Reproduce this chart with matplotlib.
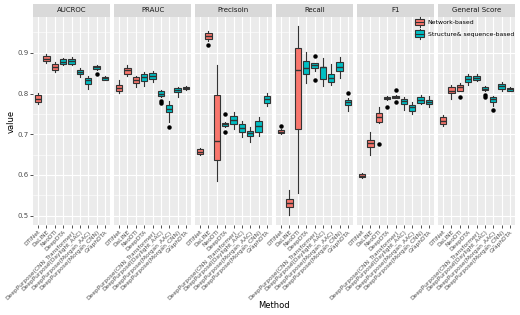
import matplotlib
matplotlib.use("Agg")
import matplotlib.pyplot as plt
from matplotlib.legend_handler import HandlerBase
from matplotlib.patches import Rectangle, Patch
from matplotlib.lines import Line2D
from matplotlib.ticker import MultipleLocator

methods = ["DTINet", "DaLINE", "NeoDTI", "DeepDTA",
           "DeepPurpose(CNN_Transformer)", "DeepPurpose(Daylight_AAC)",
           "DeepPurpose(Morgan_AAC)", "DeepPurpose(Morgan_CNN)", "GraphDTA"]
groups = ["Network-based"] * 3 + ["Structure& sequence-based"] * 6
metrics = ["AUCROC", "PRAUC", "Precisoin", "Recall", "F1", "General Score"]

# box summaries: [whisker low, q1, median, q3, whisker high]
aucroc = [[0.774, 0.778, 0.787, 0.797, 0.801], [0.875, 0.880, 0.886, 0.893, 0.897],
          [0.854, 0.858, 0.865, 0.872, 0.878], [0.869, 0.872, 0.878, 0.884, 0.887],
          [0.870, 0.872, 0.879, 0.885, 0.889], [0.840, 0.848, 0.853, 0.858, 0.862],
          [0.811, 0.824, 0.832, 0.839, 0.843], [0.858, 0.860, 0.864, 0.868, 0.870],
          [0.833, 0.834, 0.837, 0.840, 0.842]]
aucroc_out = [[], [], [], [], [], [], [], [0.849], []]

prauc = [[0.801, 0.807, 0.814, 0.820, 0.832], [0.842, 0.849, 0.857, 0.863, 0.870],
         [0.816, 0.827, 0.833, 0.840, 0.844], [0.819, 0.830, 0.840, 0.847, 0.854],
         [0.829, 0.835, 0.843, 0.851, 0.855], [0.792, 0.794, 0.800, 0.805, 0.809],
         [0.731, 0.754, 0.762, 0.772, 0.782], [0.792, 0.803, 0.808, 0.813, 0.816],
         [0.809, 0.810, 0.813, 0.816, 0.818]]
prauc_out = [[], [], [], [], [], [0.781, 0.776], [0.717], [], []]

precision = [[0.648, 0.651, 0.657, 0.663, 0.667], [0.930, 0.934, 0.942, 0.948, 0.953],
             [0.585, 0.636, 0.684, 0.797, 0.870], [0.718, 0.720, 0.724, 0.728, 0.730],
             [0.712, 0.724, 0.735, 0.745, 0.754], [0.694, 0.705, 0.715, 0.724, 0.733],
             [0.682, 0.696, 0.702, 0.708, 0.717], [0.696, 0.706, 0.720, 0.733, 0.742],
             [0.769, 0.776, 0.786, 0.795, 0.801]]
precision_out = [[], [0.918], [], [0.749, 0.705], [], [], [], [], []]

recall = [[0.700, 0.702, 0.706, 0.710, 0.712], [0.501, 0.522, 0.530, 0.540, 0.563],
          [0.555, 0.712, 0.858, 0.913, 0.967], [0.827, 0.848, 0.862, 0.879, 0.901],
          [0.855, 0.862, 0.870, 0.875, 0.876], [0.819, 0.836, 0.864, 0.866, 0.887],
          [0.821, 0.829, 0.838, 0.848, 0.872], [0.838, 0.856, 0.866, 0.877, 0.889],
          [0.757, 0.771, 0.778, 0.784, 0.788]]
recall_out = [[0.721], [], [], [], [0.893, 0.834], [], [], [], [0.802]]

f1 = [[0.593, 0.594, 0.598, 0.602, 0.604], [0.649, 0.669, 0.678, 0.687, 0.706],
      [0.727, 0.731, 0.742, 0.753, 0.768], [0.785, 0.787, 0.790, 0.792, 0.795],
      [0.788, 0.789, 0.792, 0.794, 0.796], [0.760, 0.774, 0.782, 0.786, 0.791],
      [0.750, 0.758, 0.766, 0.772, 0.780], [0.774, 0.776, 0.784, 0.792, 0.797],
      [0.768, 0.774, 0.780, 0.784, 0.794]]
f1_out = [[], [], [0.677], [0.768], [0.809, 0.780], [], [], [], []]

general = [[0.720, 0.725, 0.733, 0.742, 0.747], [0.787, 0.801, 0.807, 0.815, 0.821],
           [0.805, 0.807, 0.815, 0.821, 0.825], [0.821, 0.828, 0.835, 0.842, 0.848],
           [0.830, 0.832, 0.838, 0.844, 0.847], [0.806, 0.809, 0.811, 0.815, 0.818],
           [0.769, 0.780, 0.786, 0.791, 0.794], [0.806, 0.812, 0.819, 0.824, 0.828],
           [0.805, 0.807, 0.811, 0.813, 0.815]]
general_out = [[], [], [0.792], [], [], [0.797, 0.791], [0.760], [], []]

panels = [(aucroc, aucroc_out), (prauc, prauc_out), (precision, precision_out),
          (recall, recall_out), (f1, f1_out), (general, general_out)]

colors = {"Network-based": "#F8766D", "Structure& sequence-based": "#00BFC4"}
EDGE = "#333333"
W, H = 520, 315


class BoxKey(HandlerBase):
    """ggplot-like boxplot legend key."""
    def create_artists(self, legend, orig_handle, xd, yd, w, h, fontsize, trans):
        cx = -xd + w / 2
        line = Line2D([cx, cx], [-yd - 0.3 * h, -yd + 1.3 * h], color=EDGE, lw=0.8,
                      transform=trans)
        box = Rectangle((-xd, -yd), w, h, facecolor=orig_handle.get_facecolor(),
                        edgecolor=EDGE, lw=0.8, transform=trans)
        med = Line2D([-xd, -xd + w], [-yd + h / 2, -yd + h / 2], color=EDGE, lw=0.8,
                     transform=trans)
        return [line, box, med]


fig = plt.figure(figsize=(W / 100, H / 100), dpi=100)
fig.patch.set_facecolor("white")

left0, pw, gap = 33, 77, 4
top, bottom = 17, 225
for i, (metric, (stats, outs)) in enumerate(zip(metrics, panels)):
    x0 = left0 + i * (pw + gap)
    ax = fig.add_axes([x0 / W, 1 - bottom / H, pw / W, (bottom - top) / H])
    ax.set_facecolor("#EBEBEB")
    for s in ax.spines.values():
        s.set_visible(False)

    bx = []
    for (lo, q1, med, q3, hi), fl in zip(stats, outs):
        bx.append(dict(whislo=lo, q1=q1, med=med, q3=q3, whishi=hi, fliers=fl))
    pos = list(range(1, len(methods) + 1))
    res = ax.bxp(bx, positions=pos, widths=0.75, patch_artist=True, showcaps=False,
                 boxprops=dict(edgecolor=EDGE, lw=0.8),
                 whiskerprops=dict(color=EDGE, lw=0.8),
                 medianprops=dict(color=EDGE, lw=1.0),
                 flierprops=dict(marker="o", markersize=2.2, markerfacecolor="black",
                                 markeredgecolor="black"))
    for patch, g in zip(res["boxes"], groups):
        patch.set_facecolor(colors[g])

    ax.set_xlim(0.4, len(methods) + 0.6)
    ax.set_ylim(0.477, 0.988)
    ax.yaxis.set_major_locator(MultipleLocator(0.1))
    ax.yaxis.set_minor_locator(MultipleLocator(0.05))
    ax.set_xticks(pos)
    ax.set_xticklabels(methods, rotation=45, ha="right", rotation_mode="anchor",
                       fontsize=4.2, color="#4D4D4D")
    ax.grid(which="major", color="white", lw=0.8)
    ax.grid(which="minor", axis="y", color="white", lw=0.4)
    ax.set_axisbelow(True)
    ax.tick_params(axis="both", which="major", length=2, width=0.6, color="#333333",
                   pad=1)
    ax.tick_params(axis="y", which="minor", length=0)
    if i == 0:
        ax.set_yticklabels([f"{v:.1f}" for v in ax.get_yticks()], fontsize=5,
                           color="#4D4D4D")
    else:
        ax.tick_params(axis="y", labelleft=False, length=0)

    # facet strip
    fig.add_artist(Rectangle((x0 / W, 1 - top / H), pw / W, 13 / H,
                             transform=fig.transFigure, facecolor="#D9D9D9",
                             edgecolor="none"))
    fig.text((x0 + pw / 2) / W, 1 - (top - 6.5) / H, metric, ha="center", va="center",
             fontsize=5, color="#1A1A1A")

fig.text((left0 + 3 * (pw + gap) - 2) / W, 1 - 306 / H, "Method", ha="center",
         va="center", fontsize=6)
fig.text(11 / W, 1 - 121 / H, "value", rotation=90, ha="center", va="center",
         fontsize=6)

handles = [Patch(facecolor=colors[g]) for g in colors]
fig.legend(handles, list(colors), handler_map={Patch: BoxKey()}, loc="upper left",
           bbox_to_anchor=(411 / W, 1 - 15 / H), frameon=False, fontsize=4.4,
           handlelength=1.6, handleheight=1.2, labelspacing=0.9, handletextpad=0.5,
           borderaxespad=0.2)

fig.savefig("out.png", dpi=100)
